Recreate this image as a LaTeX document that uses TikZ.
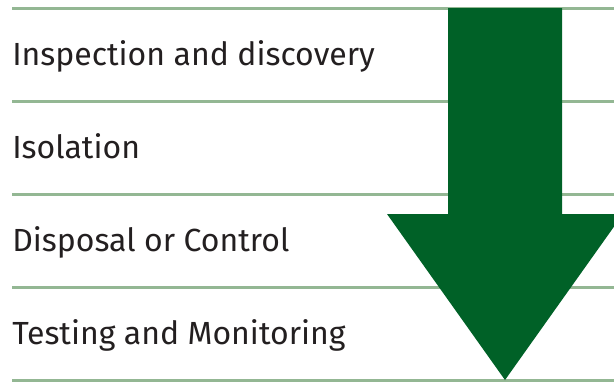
\documentclass[tikz,border=0pt]{standalone}
\usepackage{fontspec}
\setmainfont{Fira Sans}
\usepackage{tikz}

\definecolor{rulegreen}{HTML}{93B793}
\definecolor{arrowgreen}{HTML}{006127}
\definecolor{textgrey}{HTML}{231F20}

\tikzset{
    stage/.style={anchor=base west, inner sep=0pt, text=textgrey, font=\fontsize{24}{28}\selectfont},
    rule/.style={draw=rulegreen, line width=1.6pt}
}

\begin{document}
\begin{tikzpicture}[x=0.75pt,y=0.75pt,yscale=-1,xscale=1]
        \useasboundingbox (0,0) rectangle (614,383);
        % separating rules
        \draw [rule] (12,8.5)--(614,8.5);
        \draw [rule] (12,101.5)--(614,101.5);
        \draw [rule] (12,194.5)--(614,194.5);
        \draw [rule] (12,287.5)--(614,287.5);
        \draw [rule] (12,380.5)--(614,380.5);
        % big arrow, head runs off the right edge
        \fill [arrowgreen] (448,8)--(562,8)--(562,214)--(623,214)--(505,380)--(387,214)--(448,214)--cycle;
        \node (inspect) at (12,65) [stage] {Inspection and discovery};
        \node (isolate) at (12,158) [stage] {Isolation};
        \node (dispose) at (12,251) [stage] {Disposal or Control};
        \node (testing) at (12,344) [stage] {Testing and Monitoring};
    \end{tikzpicture}
\end{document}
